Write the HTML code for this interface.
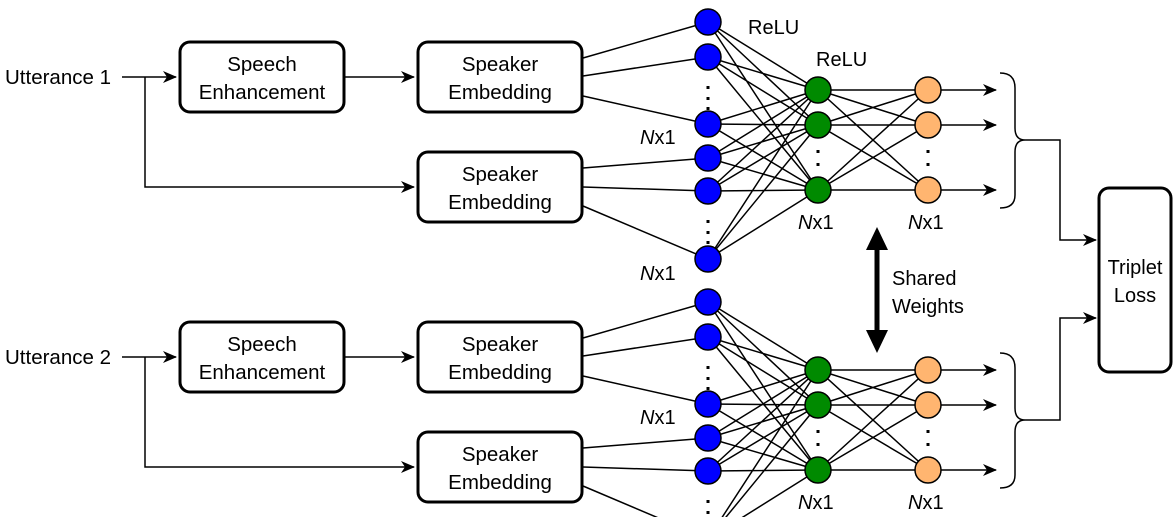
<!DOCTYPE html>
<html><head><meta charset="utf-8"><style>
html,body{margin:0;padding:0;background:#fff;width:1173px;height:517px;overflow:hidden;}
svg{display:block;font-family:"Liberation Sans",Arial,sans-serif;}
</style></head><body>
<svg width="1173" height="517" viewBox="0 0 1173 517" xmlns="http://www.w3.org/2000/svg">
<defs>
<marker id="a" markerWidth="14" markerHeight="12" refX="13" refY="6" orient="auto" markerUnits="userSpaceOnUse"><path d="M0,0 L14,6 L0,12 L4,6 z" fill="#000" stroke="none"/></marker>
</defs>
<g id="top">
<path d="M122,77 H176" stroke="#000" stroke-width="1.5" fill="none" marker-end="url(#a)"/>
<path d="M145,77 V187 H414" stroke="#000" stroke-width="1.5" fill="none" marker-end="url(#a)"/>
<path d="M344,77 H414" stroke="#000" stroke-width="1.5" fill="none" marker-end="url(#a)"/>
<rect x="180" y="42" width="164" height="70" rx="10" fill="#fff" stroke="#000" stroke-width="3"/>
<text x="262" y="71" font-size="20.5" text-anchor="middle">Speech</text>
<text x="262" y="99" font-size="20.5" text-anchor="middle">Enhancement</text>
<rect x="418" y="42" width="164" height="70" rx="10" fill="#fff" stroke="#000" stroke-width="3"/>
<text x="500" y="71" font-size="20.5" text-anchor="middle">Speaker</text>
<text x="500" y="99" font-size="20.5" text-anchor="middle">Embedding</text>
<rect x="418" y="152" width="164" height="70" rx="10" fill="#fff" stroke="#000" stroke-width="3"/>
<text x="500" y="181" font-size="20.5" text-anchor="middle">Speaker</text>
<text x="500" y="209" font-size="20.5" text-anchor="middle">Embedding</text>
</g>
<use href="#top" transform="translate(0,280)"/>
<text x="5" y="84" font-size="20.5">Utterance 1</text>
<text x="5" y="364" font-size="20.5">Utterance 2</text>
<g id="net" stroke="#000" stroke-width="1.5">
<path d="M583,58 L708,22 M583,76 L708,57 M583,96 L708,124 M583,168 L708,158 M583,187 L708,191 M583,206 L708,259" fill="none"/>
<g fill="none">
<path d="M708,22 L818,90 M708,22 L818,125 M708,22 L818,190
M708,57 L818,90 M708,57 L818,125 M708,57 L818,190
M708,124 L818,90 M708,124 L818,125 M708,124 L818,190
M708,158 L818,90 M708,158 L818,125 M708,158 L818,190
M708,191 L818,90 M708,191 L818,125 M708,191 L818,190
M708,259 L818,90 M708,259 L818,125 M708,259 L818,190
M818,90 L928,90 M818,90 L928,125 M818,90 L928,190
M818,125 L928,90 M818,125 L928,125 M818,125 L928,190
M818,190 L928,90 M818,190 L928,125 M818,190 L928,190"/>
</g>
<path d="M941,90 H996" fill="none" marker-end="url(#a)"/>
<path d="M941,125 H996" fill="none" marker-end="url(#a)"/>
<path d="M941,190 H996" fill="none" marker-end="url(#a)"/>
<g fill="#0000ff">
<circle cx="708" cy="22" r="13"/><circle cx="708" cy="57" r="13"/><circle cx="708" cy="124" r="13"/>
<circle cx="708" cy="158" r="13"/><circle cx="708" cy="191" r="13"/><circle cx="708" cy="259" r="13"/>
</g>
<g fill="#008a00"><circle cx="818" cy="90" r="13"/><circle cx="818" cy="125" r="13"/><circle cx="818" cy="190" r="13"/></g>
<g fill="#ffb570"><circle cx="928" cy="90" r="13"/><circle cx="928" cy="125" r="13"/><circle cx="928" cy="190" r="13"/></g>
<g stroke="none" fill="#000">
<rect x="706.5" y="86" width="3" height="3"/><rect x="706.5" y="97" width="3" height="3"/><rect x="706.5" y="107" width="3" height="3"/>
<rect x="706.5" y="220" width="3" height="3"/><rect x="706.5" y="231" width="3" height="3"/><rect x="706.5" y="241" width="3" height="3"/>
<rect x="816.5" y="150" width="3" height="3"/><rect x="816.5" y="163" width="3" height="3"/>
<rect x="926.5" y="150" width="3" height="3"/><rect x="926.5" y="163" width="3" height="3"/>
</g>
<path d="M1000,73 Q1015,73 1015,88 V128 Q1015,140 1025,140 Q1015,140 1015,152 V195 Q1015,208 1000,208" fill="none"/>
<g stroke="none" font-size="20">
<text x="640" y="144"><tspan font-style="italic">N</tspan>x1</text>
<text x="640" y="280"><tspan font-style="italic">N</tspan>x1</text>
<text x="798" y="229"><tspan font-style="italic">N</tspan>x1</text>
<text x="908" y="229"><tspan font-style="italic">N</tspan>x1</text>
</g>
</g>
<use href="#net" transform="translate(0,280)"/>
<text x="748" y="34" font-size="20">ReLU</text>
<text x="816" y="66" font-size="20">ReLU</text>
<path d="M1025,140 H1060 V240 H1096" stroke="#000" stroke-width="1.5" fill="none" marker-end="url(#a)"/>
<path d="M1025,420 H1060 V318 H1096" stroke="#000" stroke-width="1.5" fill="none" marker-end="url(#a)"/>
<rect x="1099" y="188" width="72" height="184" rx="10" fill="#fff" stroke="#000" stroke-width="3"/>
<text x="1135" y="274" font-size="20" text-anchor="middle">Triplet</text>
<text x="1135" y="302" font-size="20" text-anchor="middle">Loss</text>
<path d="M877,250 V330" stroke="#000" stroke-width="5"/>
<path d="M866,250 L877,227 L888,250 z M866,330 L877,353 L888,330 z" fill="#000"/>
<text x="892" y="285" font-size="20">Shared</text>
<text x="892" y="313" font-size="20">Weights</text>
</svg>
</body></html>
